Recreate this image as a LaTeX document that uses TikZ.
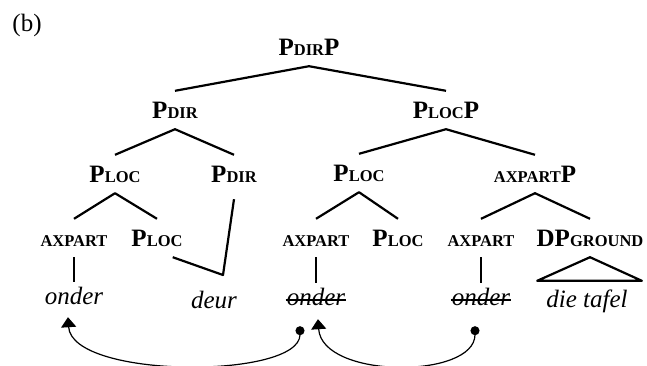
\documentclass[tikz,border=0pt]{standalone}
\usepackage{fontspec}
\setmainfont{Liberation Serif}
\usetikzlibrary{arrows.meta,calc}
\newcommand{\lowcap}[1]{{\fontsize{16.5}{20}\selectfont #1}}

\begin{document}
\begin{tikzpicture}[x=1pt,y=-1pt,
  cat/.style={font=\bfseries\fontsize{25}{30}\selectfont,anchor=base,inner xsep=2pt,inner ysep=11pt,text height=16pt,text depth=0pt},
  word/.style={font=\itshape\fontsize{25}{30}\selectfont,anchor=base,inner xsep=2pt,inner ysep=6pt,text height=16pt,text depth=0pt},
  branch/.style={line width=2.2pt,line join=round},
  strike/.style={line width=1.4pt},
  movearrow/.style={line width=1.2pt,{Circle[length=9pt]}-{Triangle[width=15pt,length=10pt]}}]
  \useasboundingbox (0,0) rectangle (647,365);

  % Label
  \node[anchor=base,font=\fontsize{25}{30}\selectfont] (lbl) at (27,31) {(b)};

  % Upper tree
  \node[cat] (root) at (309,55) {P\lowcap{DIR}P};
  \node[cat] (pdir2) at (175,118) {P\lowcap{DIR}};
  \node[cat] (plocp) at (446,118) {P\lowcap{LOC}P};
  \node[cat] (ploc3a) at (115,182) {P\lowcap{LOC}};
  \node[cat] (pdir3) at (234,182) {P\lowcap{DIR}};
  \node[cat] (ploc3b) at (359,181) {P\lowcap{LOC}};
  \node[cat] (axpartp) at (535,182) {\lowcap{AXPART}P};

  % Terminal categories
  \node[cat] (ax1) at (74,246) {\lowcap{AXPART}};
  \node[cat] (ploc4a) at (157,246) {P\lowcap{LOC}};
  \node[cat] (ax2) at (316,246) {\lowcap{AXPART}};
  \node[cat] (ploc4b) at (398,246) {P\lowcap{LOC}};
  \node[cat] (ax3) at (481,246) {\lowcap{AXPART}};
  \node[cat] (dp) at (590,246) {DP\lowcap{GROUND}};

  % Words
  \node[word] (o1) at (74,304) {onder};
  \node[word] (deur) at (214,308) {deur};
  \node[word] (o2) at (316,305) {onder};
  \node[word] (o3) at (481,305) {onder};
  \node[word] (tafel) at (587,307) {die tafel};

  % Deleted copies
  \draw[strike] ($(o2.base west)+(1,-5)$) -- ($(o2.base east)+(-1,-5)$);
  \draw[strike] ($(o3.base west)+(1,-5)$) -- ($(o3.base east)+(-1,-5)$);

  % Branches
  \draw[branch] (pdir2.north) -- (root.south) -- (plocp.north);
  \draw[branch] (ploc3a.north) -- (pdir2.south) -- (pdir3.north);
  \draw[branch] (ploc3b.north) -- (plocp.south) -- (axpartp.north);
  \draw[branch] (ax1.north) -- (ploc3a.south) -- (ploc4a.north);
  \draw[branch] (ax2.north) -- (ploc3b.south) -- (ploc4b.north);
  \draw[branch] (ax3.north) -- (axpartp.south) -- (dp.north);
  \draw[branch] (ax1.south) -- (o1.north);
  \draw[branch] (ax2.south) -- (o2.north);
  \draw[branch] (ax3.south) -- (o3.north);
  \coordinate (join) at (223,275);
  \draw[branch] ([yshift=-6pt]pdir3.south) -- (join) -- ([xshift=-12pt]ploc4a.south east);
  \draw[branch] (dp.south) -- ($(tafel.north west)+(-7,-4)$) -- ($(tafel.north east)+(12,-4)$) -- cycle;

  % Movement
  \draw[movearrow] ($(o2.south)+(-16,15)$) .. controls +(0,53) and +(4,62) .. ($(o1.south)+(-6,7)$);
  \draw[movearrow] ($(o3.south)+(-6,15)$) .. controls +(0,53) and +(4,60) .. ($(o2.south)+(2,8)$);
\end{tikzpicture}
\end{document}
